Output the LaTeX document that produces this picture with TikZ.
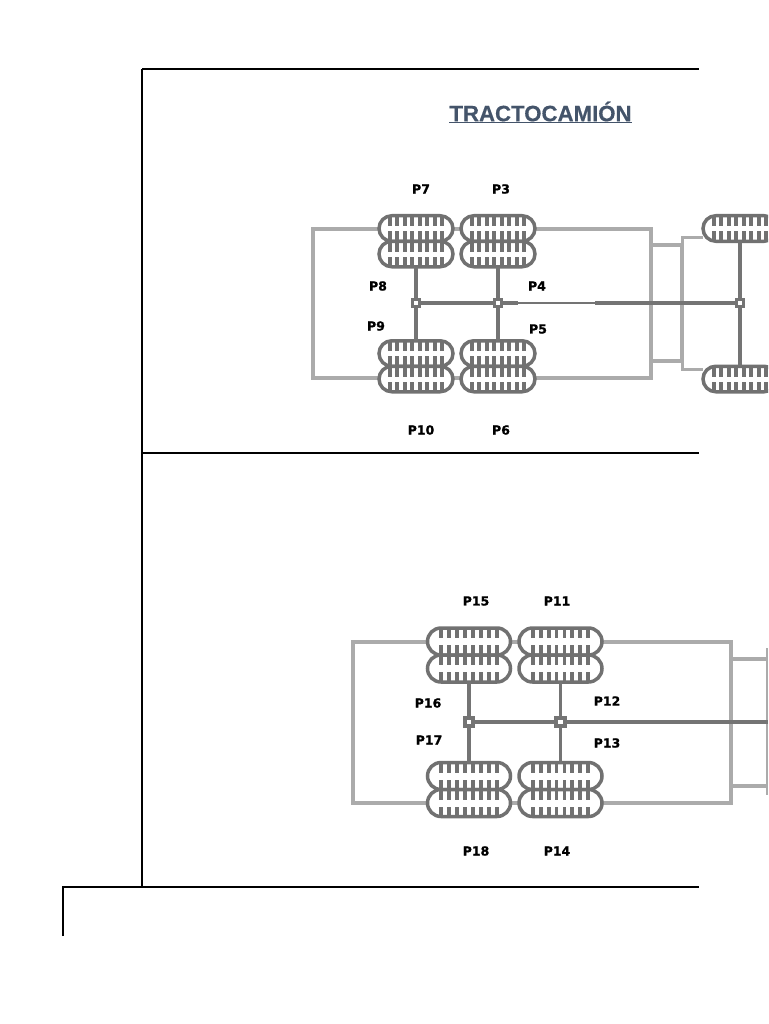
\documentclass[tikz,border=0pt]{standalone}
\usepackage{fontspec}
\setmainfont{Liberation Sans}[BoldFeatures={FakeBold=0.6}]
\newfontfamily\lblfont{DejaVu Sans}[BoldFeatures={FakeBold=1.2}]
\usetikzlibrary{calc,shapes.misc}
\definecolor{tyregray}{HTML}{717171}
\definecolor{axlegray}{HTML}{747474}
\definecolor{bodygray}{HTML}{ABABAB}
\definecolor{titleblue}{HTML}{44546A}
\tikzset{
  frameline/.style={black,line width=2.8pt},
  tyre/.style={rounded rectangle,draw=tyregray,fill=white,line width=3.5pt,inner sep=0pt,outer sep=0pt},
  smalltyre/.style={tyre,minimum width=74pt,minimum height=25.5pt},
  bigtyre/.style={tyre,minimum width=83pt,minimum height=27pt},
  tread/.style={tyregray,line width=3.8pt},
  body/.style={bodygray,line width=4.3pt},
  axle/.style={axlegray,line width=3.4pt},
  hub/.style={draw=axlegray,fill=white,line width=3.5pt,minimum size=7pt,inner sep=0pt},
  bighub/.style={hub,line width=4pt,minimum size=8.5pt},
  lbl/.style={font=\lblfont\fontsize{12.5pt}{13pt}\selectfont\bfseries,text=black,inner sep=0pt},
}
% #1 tyre node, #2 spacing, #3 half height of the tread rows
\newcommand{\treads}[3]{
  \foreach \k in {-3.5,-2.5,...,3.5} {
    \draw[tread] ($(#1.center)+(\k*#2,-#3)$) -- ++(0,9);
    \draw[tread] ($(#1.center)+(\k*#2,#3)$) -- ++(0,-9);
  }
}
\begin{document}
\begin{tikzpicture}[x=1pt,y=-1pt]
  \clip (0,0) rectangle (768,1024);

  % frame
  \draw[frameline] (142,69) -- (699,69);
  \draw[frameline,line width=2.2pt] (142,69) -- (142,887);
  \draw[frameline] (142,453) -- (699,453);
  \draw[frameline,line width=1.8pt] (63,936) -- (63,887) -- (699,887);

  \node[text=titleblue,font=\bfseries\fontsize{22.2pt}{24pt}\selectfont,inner sep=0pt] (title) at (540.5,111.5) {TRACTOCAMIÓN};
  \draw[titleblue,line width=1.6pt] ([yshift=-1pt]title.south west) -- ([yshift=-1pt]title.south east);

  % upper truck, body
  \draw[body] (313,229) rectangle (651,378);
  \draw[body,line width=3.5pt] (651,245) rectangle (682,361);
  \draw[body,line width=3pt] (703,237) -- (682,237) -- (682,369) -- (703,369);

  \node[smalltyre] (tyreA) at (416,228.5) {};
  \node[smalltyre] (tyreB) at (416,254) {};
  \node[smalltyre] (tyreC) at (498,228.5) {};
  \node[smalltyre] (tyreD) at (498,254) {};
  \node[smalltyre] (tyreE) at (416,353.5) {};
  \node[smalltyre] (tyreF) at (416,379) {};
  \node[smalltyre] (tyreG) at (498,353.5) {};
  \node[smalltyre] (tyreH) at (498,379) {};
  \node[smalltyre] (tyreI) at (740,228.5) {};
  \node[smalltyre] (tyreJ) at (740,379) {};
  \foreach \t in {A,B,C,D,E,F,G,H,I,J} {\treads{tyre\t}{7.5}{11.5}}

  \node[hub] (hubA) at (416,303) {};
  \node[hub] (hubB) at (498,303) {};
  \node[hub] (hubC) at (740,303) {};
  \coordinate (thinA) at (518,303);
  \coordinate (thinB) at (595,303);
  \draw[axle] (hubA) -- (hubB) -- (thinA);
  \draw[axle,line width=2pt] (thinA) -- (thinB);
  \draw[axle] (thinB) -- (hubC);
  \draw[axle] (tyreB) -- (hubA) -- (tyreE);
  \draw[axle] (tyreD) -- (hubB) -- (tyreG);
  \draw[axle] (tyreI) -- (hubC) -- (tyreJ);

  \node[lbl] (p7) at (421,189) {P7};
  \node[lbl] (p3) at (501,189) {P3};
  \node[lbl] (p8) at (378,286) {P8};
  \node[lbl] (p4) at (537,286) {P4};
  \node[lbl] (p9) at (376,326) {P9};
  \node[lbl] (p5) at (538,329) {P5};
  \node[lbl] (p10) at (421,430) {P10};
  \node[lbl] (p6) at (501,430) {P6};

  % lower truck, body
  \draw[body] (353,642) rectangle (731,803);
  \draw[body,line width=3.5pt] (731,659) -- (767,659);
  \draw[body,line width=3.5pt] (731,786) -- (767,786);
  \draw[body,line width=2.5pt] (767,648) -- (767,795);

  \node[bigtyre] (tyreK) at (469,641.5) {};
  \node[bigtyre] (tyreL) at (469,668.5) {};
  \node[bigtyre] (tyreM) at (560.5,641.5) {};
  \node[bigtyre] (tyreN) at (560.5,668.5) {};
  \node[bigtyre] (tyreO) at (469,776) {};
  \node[bigtyre] (tyreP) at (469,803) {};
  \node[bigtyre] (tyreQ) at (560.5,776) {};
  \node[bigtyre] (tyreR) at (560.5,803) {};
  \foreach \t in {K,L,M,N,O,P,Q,R} {\treads{tyre\t}{7.9}{12.5}}

  \node[bighub] (hubD) at (469,722) {};
  \node[bighub] (hubE) at (560.5,722) {};
  \coordinate (shaftEnd) at (768,722);
  \draw[axle] (hubD) -- (hubE) -- (shaftEnd);
  \draw[axle,line width=3.8pt] (tyreL) -- (hubD) -- (tyreO);
  \draw[axle] (tyreN) -- (hubE) -- (tyreQ);

  \node[lbl] (p15) at (476,601) {P15};
  \node[lbl] (p11) at (557,601) {P11};
  \node[lbl] (p16) at (428,703) {P16};
  \node[lbl] (p12) at (607,701) {P12};
  \node[lbl] (p17) at (429,740) {P17};
  \node[lbl] (p13) at (607,743) {P13};
  \node[lbl] (p18) at (476,851) {P18};
  \node[lbl] (p14) at (557,851) {P14};
\end{tikzpicture}
\end{document}
